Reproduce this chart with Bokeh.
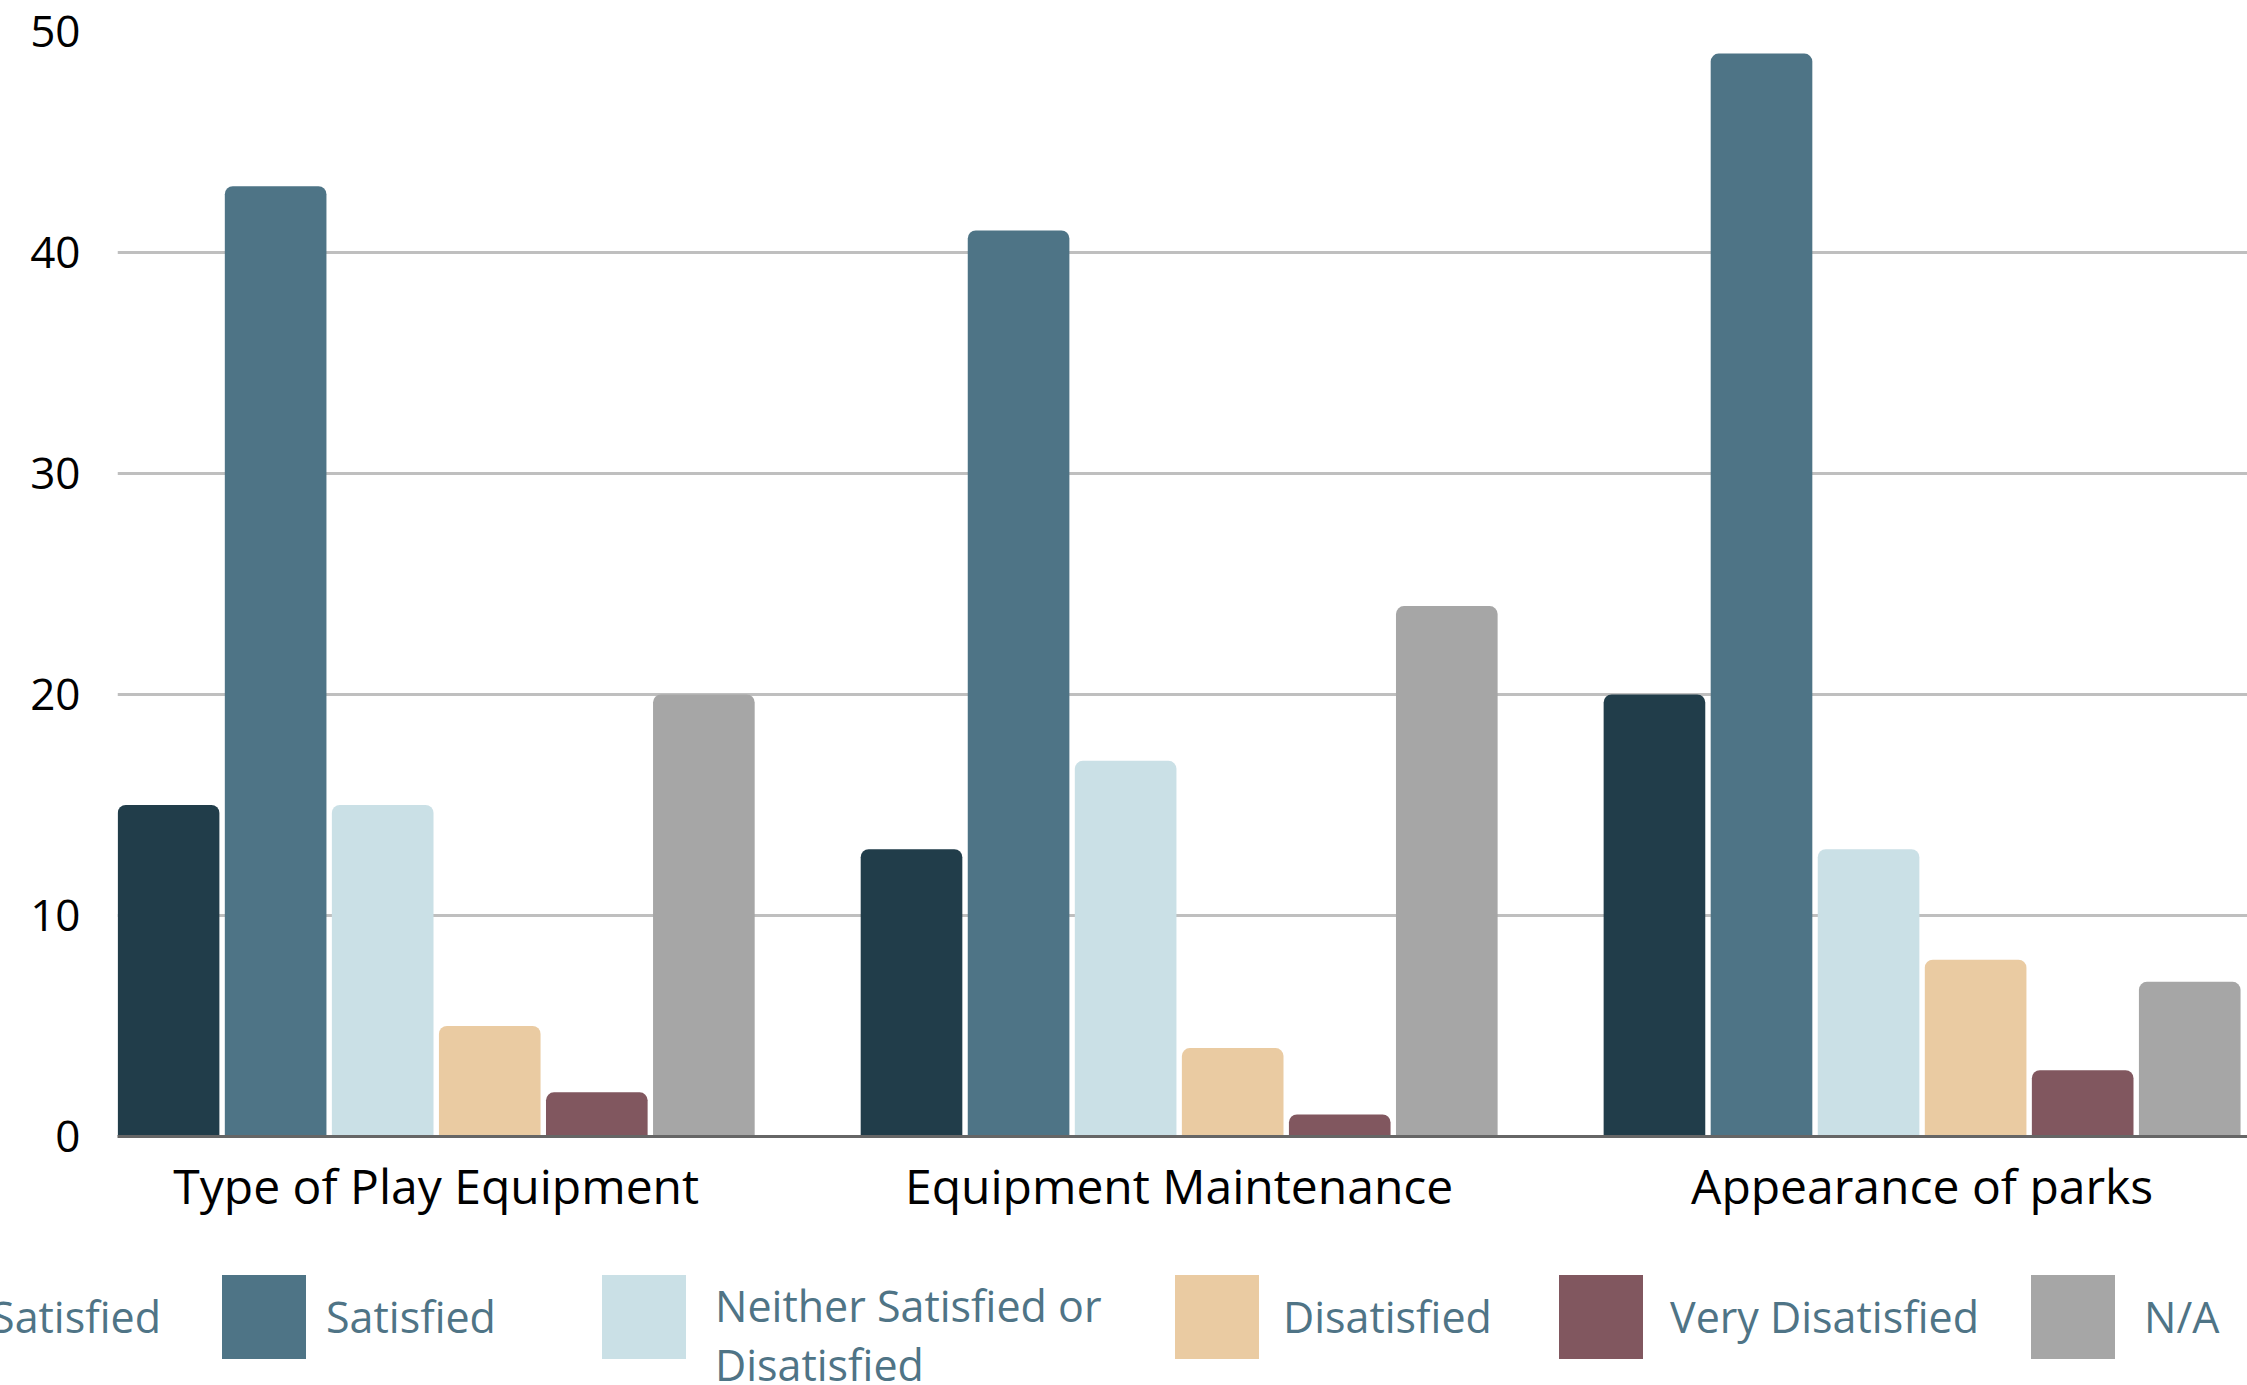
from bokeh.plotting import figure
from bokeh.models import Range1d, FixedTicker, ColumnDataSource, Legend, LegendItem
from bokeh.transform import dodge
from bokeh.embed import file_html
from bokeh.resources import INLINE

# ---------------- data ----------------
categories = ["Type of Play Equipment", "Equipment Maintenance", "Appearance of parks"]
series_names = ["Very Satisfied", "Satisfied", "Neither Satisfied or\nDisatisfied",
                "Disatisfied", "Very Disatisfied", "N/A"]
very_satisfied = [15, 13, 20]
satisfied = [43, 41, 49]
neither = [15, 17, 13]
disatisfied = [5, 4, 8]
very_disatisfied = [2, 1, 3]
not_applicable = [20, 24, 7]
y_ticks = [0, 10, 20, 30, 40, 50]

series_values = [very_satisfied, satisfied, neither, disatisfied, very_disatisfied, not_applicable]
colors = ["#213d4a", "#4e7486", "#cae0e6", "#eacba2", "#81575f", "#a6a6a6"]

# ---------------- layout / style ----------------
W = 2247
H_CHART, H_LEGEND = 1240, 145
FONT = "Open Sans"
BAR_STEP = 0.1441
BAR_W = 0.1368

centers = [i + 0.5 for i in range(len(categories))]
data = {"x": centers}
for k, vals in enumerate(series_values):
    data[f"s{k}"] = vals
src = ColumnDataSource(data)
n = len(series_values)

# ---------------- chart ----------------
p = figure(width=W, height=H_CHART, output_backend="svg", toolbar_location=None,
           x_range=Range1d(0.071, 2.938), y_range=Range1d(0, 50),
           min_border_left=117, min_border_right=0, min_border_top=31, min_border_bottom=104,
           background_fill_color="white", border_fill_color="white")
p.outline_line_color = None

for k in range(n):
    off = (k - (n - 1) / 2) * BAR_STEP
    p.vbar(x=dodge("x", off, range=p.x_range), top=f"s{k}", width=BAR_W, source=src,
           fill_color=colors[k], line_color=None, border_radius=(8, 8, 0, 0))

p.xgrid.grid_line_color = None
p.ygrid.grid_line_color = "#bfbfbf"
p.ygrid.grid_line_width = 3
p.ygrid.ticker = FixedTicker(ticks=y_ticks)

p.yaxis.ticker = FixedTicker(ticks=y_ticks)
p.yaxis.axis_line_color = None
p.yaxis.major_tick_line_color = None
p.yaxis.minor_tick_line_color = None
p.yaxis.major_tick_out = 0
p.yaxis.major_label_standoff = 37
p.yaxis.major_label_text_font = FONT
p.yaxis.major_label_text_font_size = "44px"
p.yaxis.major_label_text_color = "#000000"

p.xaxis.ticker = FixedTicker(ticks=centers)
p.xaxis.major_label_overrides = {c: name for c, name in zip(centers, categories)}
p.xaxis.axis_line_color = "#666666"
p.xaxis.axis_line_width = 3
p.xaxis.major_tick_line_color = None
p.xaxis.minor_tick_line_color = None
p.xaxis.major_tick_out = 0
p.xaxis.major_label_standoff = 16
p.xaxis.major_label_text_font = FONT
p.xaxis.major_label_text_font_size = "48px"
p.xaxis.major_label_text_color = "#000000"

# ---------------- legend strip (overflows the left edge like the reference) ----------------
lp = figure(width=W, height=H_LEGEND, output_backend="svg", toolbar_location=None,
            x_range=Range1d(100, 101), y_range=Range1d(100, 101),
            min_border_left=0, min_border_right=0, min_border_top=0, min_border_bottom=0,
            background_fill_color="white", border_fill_color="white")
lp.outline_line_color = None
lp.axis.visible = False
lp.grid.visible = False

legend_x = [-224, 211, 591, 1164, 1548, 2020]   # glyph-box left edges, px
legend_y = 16
standoffs = [10, 10, 10, 14, 17, 19]
TWO_LINE = 2   # the wrapped item: swatch and label placed separately


def make_legend(label, renderer, x, y, glyph_w, label_h, standoff):
    return Legend(items=[LegendItem(label=label, renderers=[renderer])],
                  location=(x, y), orientation="horizontal",
                  glyph_width=glyph_w, glyph_height=105, label_standoff=standoff,
                  label_height=label_h, padding=0, margin=0, spacing=0,
                  background_fill_alpha=0, border_line_color=None,
                  label_text_font=FONT, label_text_font_size="43px",
                  label_text_color="#4f7486")


for k in range(n):
    r = lp.vbar(x="x", top=f"s{k}", width=BAR_W, source=src,
                fill_color=colors[k], line_color=None)
    if k == TWO_LINE:
        lp.add_layout(make_legend("", r, legend_x[k], legend_y, 105, 20, standoffs[k]))
        lp.add_layout(make_legend(series_names[k], r, legend_x[k] + 114, legend_y - 36, 0, 141,
                                  standoffs[k]))
    else:
        lp.add_layout(make_legend(series_names[k], r, legend_x[k], legend_y, 105, 20, standoffs[k]))

open("out.html", "w").write(file_html([p, lp], INLINE))
